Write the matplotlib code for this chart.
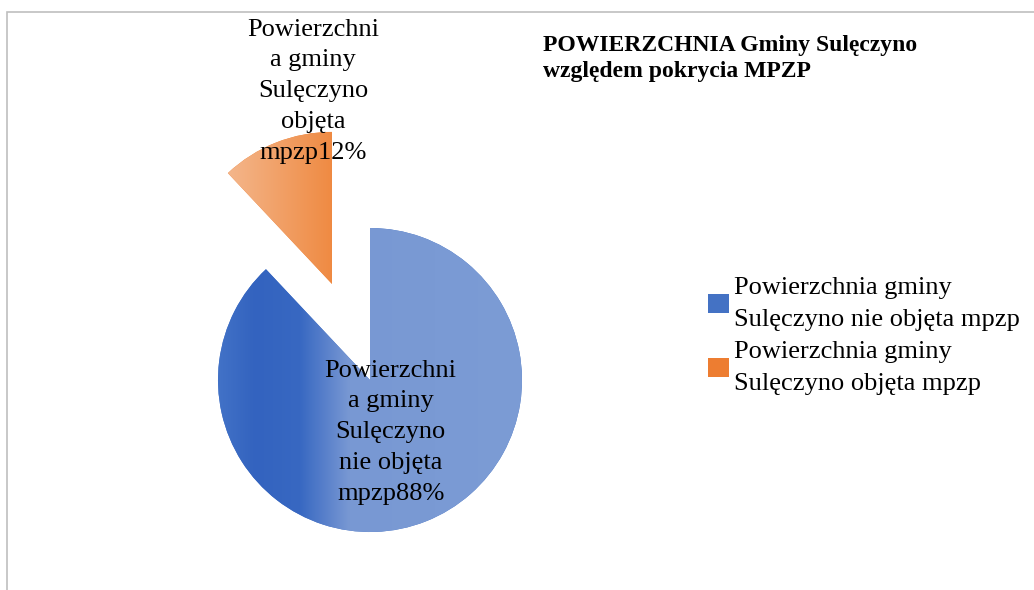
import numpy as np
import matplotlib.pyplot as plt
from matplotlib.colors import LinearSegmentedColormap
from matplotlib.patches import Patch, Rectangle

# Dane
legend_labels = ['Powierzchnia gminy\nSulęczyno nie objęta mpzp',
                 'Powierzchnia gminy\nSulęczyno objęta mpzp']
data_labels = ['Powierzchni\na gminy\nSulęczyno\nnie objęta\nmpzp',
               'Powierzchni\na gminy\nSulęczyno\nobjęta\nmpzp']
values = [88, 12]
colors = ['#4472C4', '#ED7D31']
title = 'POWIERZCHNIA Gminy Sulęczyno\nwzględem pokrycia MPZP'

serif = 'Liberation Serif'
W, H = 1034, 590
R = 152.0           # promien kola w pikselach
cx, cy = 370, 380   # srodek kola (px, od gory)

fig = plt.figure(figsize=(W / 100, H / 100), dpi=100)
ax = fig.add_axes([0, 0, 1, 1])

wedges, _ = ax.pie(values, colors=colors, startangle=90, counterclock=False,
                   explode=[0, 0.68], radius=1)


def fill_gradient(w, stops):
    cmap = LinearSegmentedColormap.from_list('g', stops)
    bb = w.get_path().get_extents()
    grad = np.linspace(0, 1, 256).reshape(1, -1)
    im = ax.imshow(grad, cmap=cmap, extent=[bb.x0, bb.x1, bb.y0, bb.y1],
                   aspect='auto', interpolation='bicubic',
                   zorder=w.get_zorder() + 0.1)
    im.set_clip_path(w)


fill_gradient(wedges[0], [(0.0, '#4272C7'), (0.12, '#3363BF'), (0.27, '#3868C2'),
                          (0.43, '#7898D3'), (1.0, '#7C9CD5')])
fill_gradient(wedges[1], [(0.0, '#F4B68B'), (1.0, '#EF8A42')])

# etykiety danych
w0 = wedges[0]
mid = np.deg2rad((w0.theta1 + w0.theta2) / 2)
ax.text(w0.center[0] + 0.37 * np.cos(mid), w0.center[1] + 0.37 * np.sin(mid),
        f'{data_labels[0]}{values[0]}%', ha='center', va='center',
        family=serif, fontsize=19, linespacing=1.52, zorder=5)
ax.text(-0.375, 1.90, f'{data_labels[1]}{values[1]}%', ha='center', va='center',
        family=serif, fontsize=19, linespacing=1.52, zorder=5)

ax.set_xlim(-cx / R, (W - cx) / R)
ax.set_ylim(-(H - cy) / R, cy / R)
ax.set_aspect('auto')
ax.axis('off')

# tytul
fig.text(543 / W, 1 - 35 / H, title, ha='left', va='top', family=serif,
         fontsize=17, fontweight='bold', linespacing=1.32)

# legenda
handles = [Patch(facecolor=c, edgecolor='none') for c in colors]
leg = fig.legend(handles, legend_labels, loc='upper left',
                 bbox_to_anchor=(708 / W, 1 - 277 / H), frameon=False,
                 prop={'family': serif, 'size': 19}, handlelength=0.8,
                 handleheight=0.75, handletextpad=0.2, labelspacing=0.4,
                 borderpad=0, borderaxespad=0)
for t in leg.get_texts():
    t.set_linespacing(1.58)

# ramka (widoczna tylko gora i lewa strona)
fig.add_artist(Rectangle((7 / W, -0.5), 2, 1.5 - 12 / H, transform=fig.transFigure,
                         fill=False, edgecolor='#BFBFBF', lw=1.2, clip_on=False))

fig.savefig('out.png', dpi=100)
